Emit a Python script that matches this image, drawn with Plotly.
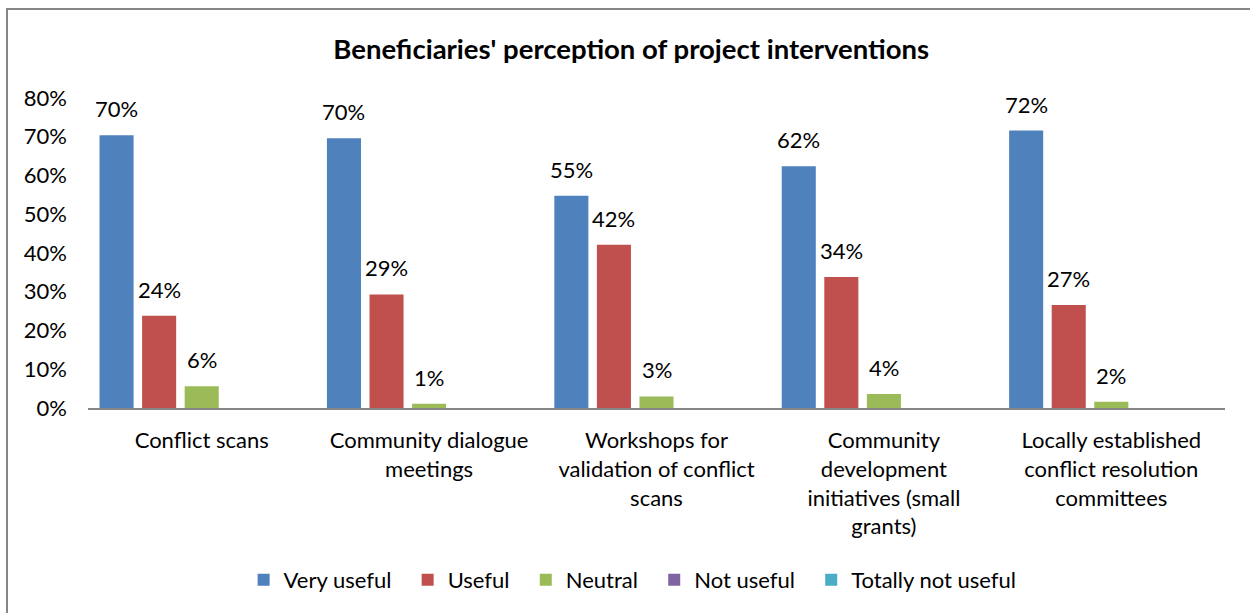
import plotly.graph_objects as go

categories = [
    "Conflict scans",
    "Community dialogue<br>meetings",
    "Workshops for<br>validation of conflict<br>scans",
    "Community<br>development<br>initiatives (small<br>grants)",
    "Locally established<br>conflict resolution<br>committees",
]
very_useful = [70.4, 69.6, 54.8, 62.4, 71.6]
useful = [23.8, 29.3, 42.1, 33.8, 26.6]
neutral = [5.6, 1.1, 3.0, 3.6, 1.6]
not_useful = [0, 0, 0, 0, 0]
totally_not_useful = [0, 0, 0, 0, 0]

series = [
    ("Very useful", very_useful, "#4F81BD"),
    ("Useful", useful, "#C0504D"),
    ("Neutral", neutral, "#9BBB59"),
    ("Not useful", not_useful, "#8064A2"),
    ("Totally not useful", totally_not_useful, "#4BACC6"),
]

FONT = "Lato, Calibri, sans-serif"
W, H = 1250, 613
ML, MR, MT, MB = 88, 25, 98, 205
BARGAP, GROUPGAP = 0.064, 0.2
PAD = "\u00a0\u00a0"  # extra room between legend entries

fig = go.Figure()
for k, (name, vals, color) in enumerate(series):
    fig.add_trace(go.Bar(name=name + (PAD if k < len(series) - 1 else ""),
                         x=categories, y=vals, marker_color=color,
                         marker_line_width=0))

# value labels sit a little above each bar, like the Excel data labels
slot = (W - ML - MR) / len(categories) * (1 - BARGAP) / len(series)
for i, (name, vals, color) in enumerate(series):
    for cat, v in zip(categories, vals):
        if v <= 0:
            continue
        fig.add_annotation(x=cat, y=v, text=f"{v:.0f}%", showarrow=False,
                           xshift=(i - (len(series) - 1) / 2) * slot,
                           yanchor="bottom", yshift=11,
                           font=dict(size=22, color="#000000"))

fig.update_layout(
    width=W, height=H,
    margin=dict(l=ML, r=MR, t=MT, b=MB),
    paper_bgcolor="white", plot_bgcolor="white",
    font=dict(family=FONT, size=22, color="#000000"),
    title=dict(text="<b>Beneficiaries' perception of project interventions</b>",
               x=0.505, xanchor="center", y=1 - 49 / H, yanchor="middle",
               font=dict(size=27.5, family=FONT)),
    barmode="group", bargap=BARGAP, bargroupgap=GROUPGAP,
    legend=dict(orientation="h", x=0.479, xanchor="center", y=-172 / 310, yanchor="middle",
                font=dict(size=22), traceorder="normal"),
    showlegend=True,
)
fig.update_yaxes(range=[0, 80], dtick=10, ticksuffix="%", showgrid=False,
                 zeroline=False, showline=False, ticklabelstandoff=20)
fig.update_xaxes(showline=True, linecolor="#868686", linewidth=2, showgrid=False,
                 ticks="", ticklabelstandoff=12)

# outer chart frame (only top and left edges fall inside the picture)
pw, ph = W - ML - MR, H - MT - MB
fig.add_shape(type="rect", xref="paper", yref="paper",
              x0=(7 - ML) / pw, x1=(W + 10 - ML) / pw,
              y0=-(MB + 10) / ph, y1=1 + (MT - 9) / ph,
              line=dict(color="#868686", width=2), fillcolor="rgba(0,0,0,0)")

fig.write_html("out.html", config={"displayModeBar": False},
               post_script="document.body.style.margin='0';")
